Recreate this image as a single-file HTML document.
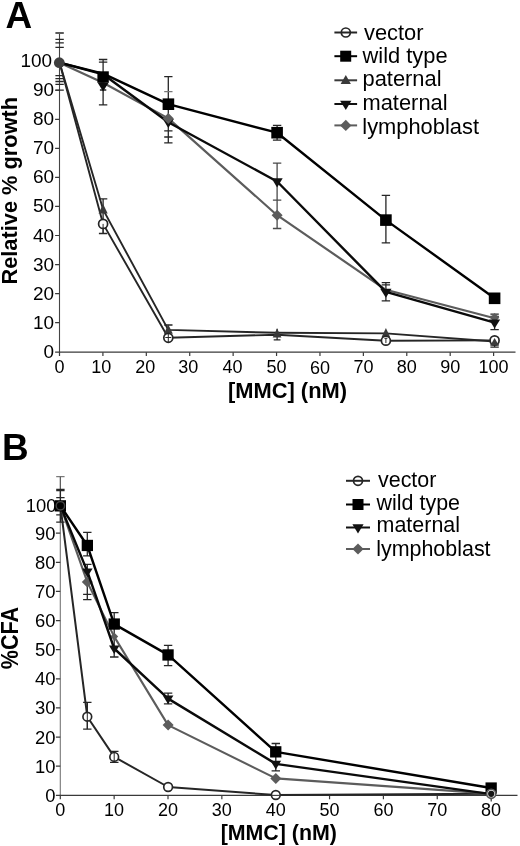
<!DOCTYPE html>
<html lang="en"><head><meta charset="utf-8"><title>Figure</title>
<style>
html,body{margin:0;padding:0;background:#fff;}
body{width:520px;height:846px;overflow:hidden;}
svg{display:block;}
text{font-family:"Liberation Sans",Arial,Helvetica,sans-serif;fill:#000;}
.tk text{font-size:18px;}
.tk text.yl{font-size:18.4px;}
.lg text{font-size:21.3px;}
.ttl{font-size:21.6px;font-weight:bold;}
.pl{font-size:36.9px;font-weight:bold;}
</style></head><body>
<svg width="520" height="846" viewBox="0 0 520 846">
<rect width="520" height="846" fill="#fff"/>
<text class="pl" x="5.4" y="27.7">A</text>
<path d="M59.50,34V352.65" stroke="#444" stroke-width="1.1" fill="none"/>
<path d="M59.00,352.15H515.5" stroke="#3a3a3a" stroke-width="1.2" fill="none"/>
<path d="M55.10,352.15H59.50M55.10,322.65H59.50M55.10,293.60H59.50M55.10,264.55H59.50M55.10,235.50H59.50M55.10,206.45H59.50M55.10,177.40H59.50M55.10,148.35H59.50M55.10,119.30H59.50M55.10,90.25H59.50M55.10,61.20H59.50M59.50,352.15V355.95M102.91,352.15V355.95M146.32,352.15V355.95M189.73,352.15V355.95M233.14,352.15V355.95M276.55,352.15V355.95M319.96,352.15V355.95M363.37,352.15V355.95M406.78,352.15V355.95M450.19,352.15V355.95M493.60,352.15V355.95" stroke="#3a3a3a" stroke-width="1.2" fill="none"/>
<g class="tk">
<text class="yl" transform="translate(54.0,357.7) scale(1.03,1)" text-anchor="end">0</text>
<text class="yl" transform="translate(54.0,328.6) scale(1.03,1)" text-anchor="end">10</text>
<text class="yl" transform="translate(54.0,299.6) scale(1.03,1)" text-anchor="end">20</text>
<text class="yl" transform="translate(54.0,270.6) scale(1.03,1)" text-anchor="end">30</text>
<text class="yl" transform="translate(54.0,241.5) scale(1.03,1)" text-anchor="end">40</text>
<text class="yl" transform="translate(54.0,212.4) scale(1.03,1)" text-anchor="end">50</text>
<text class="yl" transform="translate(54.0,183.4) scale(1.03,1)" text-anchor="end">60</text>
<text class="yl" transform="translate(54.0,154.3) scale(1.03,1)" text-anchor="end">70</text>
<text class="yl" transform="translate(54.0,125.3) scale(1.03,1)" text-anchor="end">80</text>
<text class="yl" transform="translate(54.0,96.2) scale(1.03,1)" text-anchor="end">90</text>
<text class="yl" transform="translate(52.1,67.2) scale(1.03,1)" text-anchor="end">100</text>
<text x="59.5" y="372.8" text-anchor="middle">0</text>
<text x="101.3" y="372.8" text-anchor="middle">10</text>
<text x="145.3" y="372.8" text-anchor="middle">20</text>
<text x="188.3" y="372.8" text-anchor="middle">30</text>
<text x="232.5" y="372.8" text-anchor="middle">40</text>
<text x="276.6" y="372.8" text-anchor="middle">50</text>
<text x="320.0" y="373.6" text-anchor="middle">60</text>
<text x="363.4" y="372.8" text-anchor="middle">70</text>
<text x="406.8" y="372.8" text-anchor="middle">80</text>
<text x="450.2" y="372.8" text-anchor="middle">90</text>
<text x="493.6" y="372.8" text-anchor="middle">100</text>
</g>
<text class="ttl" style="font-size:21.8px" transform="translate(17.3,190.7) rotate(-90)" text-anchor="middle">Relative % growth</text>
<text class="ttl" transform="translate(287.5,398.3) scale(1.013,1)" text-anchor="middle">[MMC] (nM)</text>
<path d="M59.6,33.0V33.3M55.4,33.0H63.8M55.4,39.4H63.8M55.4,42.9H63.8M55.4,47.3H63.8M55.4,75.7H63.8M55.4,78.6H63.8M55.4,81.5H63.8M55.4,84.4H63.8M55.4,90.2H63.8" stroke="#262626" stroke-width="1.3" fill="none"/>
<path d="M103.1,59.5V104.8M98.9,59.5H107.3M98.9,62.1H107.3M99.9,90.0H106.3M98.9,104.8H107.3" stroke="#262626" stroke-width="1.3" fill="none"/>
<path d="M103.1,198.9V233.5M98.9,198.9H107.3M98.9,233.5H107.3" stroke="#262626" stroke-width="1.3" fill="none"/>
<path d="M168.3,76.6V142.8M164.2,76.6H172.5M164.2,130.9H172.5M164.2,137.0H172.5M164.2,142.8H172.5" stroke="#262626" stroke-width="1.3" fill="none"/>
<path d="M168.3,91.7V92.0M164.2,91.7H172.5" stroke="#777" stroke-width="1.3" fill="none"/>
<path d="M168.3,325.0V342.1M164.2,325.0H172.5" stroke="#262626" stroke-width="1.3" fill="none"/>
<path d="M277.1,125.4V140.2M272.9,125.4H281.3M272.9,140.2H281.3" stroke="#262626" stroke-width="1.3" fill="none"/>
<path d="M277.1,163.2V228.5M272.9,163.2H281.3M272.9,200.1H281.3M272.9,228.5H281.3" stroke="#4a4a4a" stroke-width="1.3" fill="none"/>
<path d="M277.1,328.8V339.8M273.7,339.8H280.5" stroke="#262626" stroke-width="1.3" fill="none"/>
<path d="M385.9,195.4V242.8M381.7,195.4H390.1M381.7,242.8H390.1" stroke="#262626" stroke-width="1.3" fill="none"/>
<path d="M385.9,282.6V300.9M381.7,282.6H390.1M381.7,284.9H390.1M381.7,300.9H390.1" stroke="#262626" stroke-width="1.3" fill="none"/>
<path d="M494.6,314.2V329.6M490.4,314.2H498.8M490.4,316.5H498.8M490.4,329.6H498.8" stroke="#262626" stroke-width="1.3" fill="none"/>
<path d="M494.6,335.7V347.1M490.4,345.0H498.8M490.4,347.1H498.8" stroke="#262626" stroke-width="1.3" fill="none"/>
<path d="M59.6,62.7 L103.1,223.9 L168.3,337.8 L277.1,334.7 L385.9,340.7 L494.6,340.4" stroke="#262626" stroke-width="1.9" fill="none" stroke-linejoin="round"/>
<path d="M59.6,62.7 L103.1,209.6 L168.3,329.9 L277.1,332.8 L385.9,333.4 L494.6,341.5" stroke="#262626" stroke-width="1.9" fill="none" stroke-linejoin="round"/>
<path d="M59.6,62.7 L103.1,82.7 L168.3,118.4 L277.1,215.2 L385.9,289.8 L494.6,318.3" stroke="#5c5c5c" stroke-width="2.2" fill="none" stroke-linejoin="round"/>
<path d="M59.6,62.7 L103.1,74.3 L168.3,122.2 L277.1,181.5 L385.9,291.9 L494.6,322.6" stroke="#0a0a0a" stroke-width="2.4" fill="none" stroke-linejoin="round"/>
<path d="M59.6,62.7 L103.1,73.7 L168.3,104.2 L277.1,132.7 L385.9,220.1 L494.6,298.2" stroke="#000" stroke-width="2.4" fill="none" stroke-linejoin="round"/>
<polygon points="98.5,213.6 107.7,213.6 103.1,204.1" fill="#3a3a3a"/>
<polygon points="163.9,333.7 172.8,333.7 168.3,324.6" fill="#3a3a3a"/>
<polygon points="272.7,337.5 281.5,337.5 277.1,328.4" fill="#3a3a3a"/>
<polygon points="381.5,337.2 390.2,337.2 385.9,328.1" fill="#3a3a3a"/>
<circle cx="103.1" cy="223.9" r="4.50" fill="#fff" stroke="#262626" stroke-width="1.70"/>
<circle cx="168.3" cy="337.8" r="4.50" fill="#fff" stroke="#262626" stroke-width="1.70"/>
<circle cx="385.9" cy="340.7" r="4.50" fill="#fff" stroke="#262626" stroke-width="1.70"/>
<circle cx="494.6" cy="340.4" r="4.50" fill="#fff" stroke="#262626" stroke-width="1.70"/>
<path d="M103.1,223.9V233.5" stroke="#262626" stroke-width="1.0" fill="none"/>
<path d="M168.3,333.4V342.1M165.3,337.5H171.3" stroke="#262626" stroke-width="1.0" fill="none"/>
<path d="M385.9,338.3V343.0M384.4,338.3H387.4" stroke="#262626" stroke-width="1.0" fill="none"/>
<polygon points="490.6,344.9 498.6,344.9 494.6,338.1" fill="#3a3a3a"/>
<polygon points="489.9,317.7 494.6,313.0 499.3,317.7 494.6,322.4" fill="#5c5c5c"/>
<rect x="97.4" y="71.3" width="11.4" height="11.4" fill="#000"/>
<rect x="162.6" y="98.4" width="11.6" height="11.6" fill="#000"/>
<rect x="271.3" y="126.9" width="11.6" height="11.6" fill="#000"/>
<rect x="380.1" y="214.3" width="11.6" height="11.6" fill="#000"/>
<rect x="488.8" y="292.5" width="11.6" height="11.6" fill="#000"/>
<polygon points="97.5,82.4 108.7,82.4 103.1,91.5" fill="#0c0c0c"/>
<polygon points="162.8,119.0 173.9,119.0 168.3,128.1" fill="#111"/>
<polygon points="271.5,178.3 282.7,178.3 277.1,187.4" fill="#111"/>
<polygon points="380.2,288.7 391.5,288.7 385.9,297.8" fill="#111"/>
<polygon points="489.0,319.4 500.2,319.4 494.6,328.5" fill="#111"/>
<polygon points="162.8,118.4 168.3,112.9 173.8,118.4 168.3,123.9" fill="#5c5c5c"/>
<polygon points="271.6,215.2 277.1,209.7 282.6,215.2 277.1,220.7" fill="#5c5c5c"/>
<circle cx="59.3" cy="62.7" r="5.4" fill="#3f3f3f"/>
<g class="lg">
<path d="M334.4,32.5H357.1" stroke="#262626" stroke-width="2.0"/><circle cx="345.8" cy="32.5" r="4.50" fill="none" stroke="#262626" stroke-width="1.70"/><text transform="translate(364,40.1) scale(1.027,1)">vector</text>
<path d="M334.4,56.2H357.1" stroke="#000" stroke-width="2.0"/><rect x="340.2" y="50.7" width="11.0" height="11.0" fill="#000"/><text transform="translate(362.5,62.6) scale(1.027,1)">wild type</text>
<path d="M334.4,80.3H357.1" stroke="#3a3a3a" stroke-width="2.0"/><polygon points="340.6,83.9 350.9,83.9 345.8,75.1" fill="#3a3a3a"/><text transform="translate(362.5,86.3) scale(1.027,1)">paternal</text>
<path d="M334.4,104H357.1" stroke="#111" stroke-width="2.0"/><polygon points="340.1,100.8 351.4,100.8 345.8,109.9" fill="#111"/><text transform="translate(362.5,109.9) scale(1.027,1)">maternal</text>
<path d="M334.4,125.4H357.1" stroke="#5c5c5c" stroke-width="2.0"/><polygon points="340.1,125.4 345.8,119.8 351.4,125.4 345.8,131.0" fill="#5c5c5c"/><text transform="translate(362.3,133.9) scale(1.027,1)">lymphoblast</text>
</g>
<text class="pl" x="1.9" y="460.1">B</text>
<path d="M60.30,477V795.90" stroke="#777" stroke-width="1.1" fill="none"/>
<path d="M59.80,795.40H517.5" stroke="#3a3a3a" stroke-width="1.2" fill="none"/>
<path d="M55.90,795.40H60.30M55.90,766.18H60.30M55.90,737.06H60.30M55.90,707.94H60.30M55.90,678.82H60.30M55.90,649.70H60.30M55.90,620.58H60.30M55.90,591.46H60.30M55.90,562.34H60.30M55.90,533.22H60.30M55.90,504.10H60.30M60.30,795.40V799.20M114.15,795.40V799.20M168.00,795.40V799.20M221.85,795.40V799.20M275.70,795.40V799.20M329.55,795.40V799.20M383.40,795.40V799.20M437.25,795.40V799.20M491.10,795.40V799.20" stroke="#3a3a3a" stroke-width="1.2" fill="none"/>
<g class="tk">
<text class="yl" transform="translate(55.4,801.7) scale(1.0,1)" text-anchor="end">0</text>
<text class="yl" transform="translate(55.4,772.6) scale(1.0,1)" text-anchor="end">10</text>
<text class="yl" transform="translate(55.4,743.5) scale(1.0,1)" text-anchor="end">20</text>
<text class="yl" transform="translate(55.4,714.3) scale(1.0,1)" text-anchor="end">30</text>
<text class="yl" transform="translate(55.4,685.2) scale(1.0,1)" text-anchor="end">40</text>
<text class="yl" transform="translate(55.4,656.1) scale(1.0,1)" text-anchor="end">50</text>
<text class="yl" transform="translate(55.4,627.0) scale(1.0,1)" text-anchor="end">60</text>
<text class="yl" transform="translate(55.4,597.9) scale(1.0,1)" text-anchor="end">70</text>
<text class="yl" transform="translate(55.4,568.7) scale(1.0,1)" text-anchor="end">80</text>
<text class="yl" transform="translate(55.4,539.6) scale(1.0,1)" text-anchor="end">90</text>
<text class="yl" transform="translate(56.4,511.5) scale(1.0,1)" text-anchor="end">100</text>
<text x="60.3" y="815.6" text-anchor="middle">0</text>
<text x="114.1" y="815.6" text-anchor="middle">10</text>
<text x="168.0" y="815.6" text-anchor="middle">20</text>
<text x="221.8" y="815.6" text-anchor="middle">30</text>
<text x="275.7" y="815.6" text-anchor="middle">40</text>
<text x="329.6" y="815.6" text-anchor="middle">50</text>
<text x="383.4" y="815.6" text-anchor="middle">60</text>
<text x="437.2" y="815.6" text-anchor="middle">70</text>
<text x="491.1" y="815.6" text-anchor="middle">80</text>
</g>
<text class="ttl" transform="translate(18,638) scale(1.09,1) rotate(-90)" text-anchor="middle">%CFA</text>
<text class="ttl" transform="translate(278.8,839.7) scale(0.99,1)" text-anchor="middle">[MMC] (nM)</text>
<path d="M60.4,476.7V489.5M56.2,476.7H64.6" stroke="#5a5a5a" stroke-width="1.0" fill="none"/>
<path d="M60.4,489.5V522.2M56.2,489.5H64.6M56.2,490.7H64.6M56.2,497.7H64.6M56.2,514.9H64.6M56.2,522.2H64.6" stroke="#262626" stroke-width="1.3" fill="none"/>
<path d="M87.3,532.3V555.9M83.1,532.3H91.5M83.1,555.9H91.5" stroke="#262626" stroke-width="1.3" fill="none"/>
<path d="M87.3,564.4V599.6M83.1,564.4H91.5M83.1,594.4H91.5M83.1,599.6H91.5" stroke="#262626" stroke-width="1.3" fill="none"/>
<path d="M87.3,702.4V729.2M83.1,702.4H91.5M83.1,729.2H91.5" stroke="#262626" stroke-width="1.3" fill="none"/>
<path d="M114.2,612.7V657.0M110.0,612.7H118.5M110.0,657.0H118.5" stroke="#262626" stroke-width="1.3" fill="none"/>
<path d="M114.2,751.3V762.4M110.0,751.3H118.5M110.0,762.4H118.5" stroke="#262626" stroke-width="1.3" fill="none"/>
<path d="M168.1,645.3V665.7M163.9,645.3H172.3M163.9,665.7H172.3" stroke="#262626" stroke-width="1.3" fill="none"/>
<path d="M168.1,693.1V703.9M163.9,693.1H172.3M163.9,703.9H172.3" stroke="#262626" stroke-width="1.3" fill="none"/>
<path d="M275.8,743.5V770.8M271.6,743.5H280.0M271.6,770.8H280.0" stroke="#262626" stroke-width="1.3" fill="none"/>
<path d="M60.4,505.8 L87.3,716.7 L114.2,756.9 L168.1,787.0 L275.8,795.0 L491.2,793.8" stroke="#262626" stroke-width="2.0" fill="none" stroke-linejoin="round"/>
<path d="M60.4,505.8 L87.3,582.1 L114.2,636.6 L168.1,725.1 L275.8,778.4 L491.2,793.6" stroke="#5c5c5c" stroke-width="2.1" fill="none" stroke-linejoin="round"/>
<polygon points="81.8,582.1 87.3,576.6 92.8,582.1 87.3,587.6" fill="#5c5c5c"/>
<polygon points="110.3,636.6 114.2,632.6 118.2,636.6 114.2,640.6" fill="#5c5c5c"/>
<polygon points="162.6,725.1 168.1,719.6 173.6,725.1 168.1,730.6" fill="#5c5c5c"/>
<polygon points="270.3,778.4 275.8,772.9 281.3,778.4 275.8,783.9" fill="#5c5c5c"/>
<path d="M60.4,505.8 L87.3,571.4 L114.2,648.5 L168.1,698.6 L275.8,763.9 L491.2,794.1" stroke="#0a0a0a" stroke-width="2.4" fill="none" stroke-linejoin="round"/>
<path d="M60.4,505.8 L87.3,545.5 L114.2,624.1 L168.1,654.9 L275.8,751.9 L491.2,788.0" stroke="#000" stroke-width="2.4" fill="none" stroke-linejoin="round"/>
<rect x="54.7" y="500.2" width="11.3" height="11.3" fill="#000"/>
<rect x="81.7" y="539.8" width="11.3" height="11.3" fill="#000"/>
<rect x="108.6" y="618.4" width="11.3" height="11.3" fill="#000"/>
<rect x="162.4" y="649.3" width="11.3" height="11.3" fill="#000"/>
<rect x="270.1" y="746.2" width="11.3" height="11.3" fill="#000"/>
<rect x="485.5" y="782.4" width="11.3" height="11.3" fill="#000"/>
<polygon points="82.1,568.4 92.6,568.4 87.3,576.9" fill="#111"/>
<polygon points="109.0,645.5 119.5,645.5 114.2,654.1" fill="#111"/>
<polygon points="162.8,695.6 173.4,695.6 168.1,704.2" fill="#111"/>
<polygon points="270.5,760.8 281.1,760.8 275.8,769.4" fill="#111"/>
<circle cx="87.3" cy="716.7" r="4.37" fill="#fff" stroke="#262626" stroke-width="1.65"/>
<circle cx="114.2" cy="756.9" r="4.37" fill="#fff" stroke="#262626" stroke-width="1.65"/>
<circle cx="168.1" cy="787.0" r="4.37" fill="#fff" stroke="#262626" stroke-width="1.65"/>
<circle cx="275.8" cy="795.0" r="4.37" fill="#fff" stroke="#262626" stroke-width="1.65"/>
<path d="M271.8,795.40h8" stroke="#3a3a3a" stroke-width="1.1"/>
<path d="M87.3,702.4V729.2" stroke="#262626" stroke-width="1.0" fill="none"/>
<path d="M114.2,751.3V762.4" stroke="#262626" stroke-width="1.0" fill="none"/>
<circle cx="60.4" cy="505.8" r="4.2" fill="none" stroke="#444" stroke-width="1.4"/>
<circle cx="491.2" cy="793.8" r="4.6" fill="#e8e8e8" stroke="#555" stroke-width="1.6"/><circle cx="491.2" cy="793.8" r="3.1" fill="#151515"/><path d="M491.2,799.0v2.6" stroke="#3a3a3a" stroke-width="1.2"/>
<g class="lg">
<path d="M346,480.8H370" stroke="#262626" stroke-width="2.0"/><circle cx="358.0" cy="480.8" r="4.50" fill="none" stroke="#262626" stroke-width="1.70"/><text transform="translate(378,487.2) scale(1.007,1)">vector</text>
<path d="M346,504.5H370" stroke="#000" stroke-width="2.0"/><rect x="352.5" y="499.0" width="11.0" height="11.0" fill="#000"/><text transform="translate(376.6,509.9) scale(1.007,1)">wild type</text>
<path d="M346,527.5H370" stroke="#111" stroke-width="2.0"/><polygon points="352.4,524.3 363.6,524.3 358.0,533.4" fill="#111"/><text transform="translate(376.6,532.4) scale(1.007,1)">maternal</text>
<path d="M346,549H370" stroke="#5c5c5c" stroke-width="2.0"/><polygon points="352.4,549.0 358.0,543.4 363.6,549.0 358.0,554.6" fill="#5c5c5c"/><text transform="translate(376.2,555.5) scale(1.007,1)">lymphoblast</text>
</g>
</svg>
</body></html>
